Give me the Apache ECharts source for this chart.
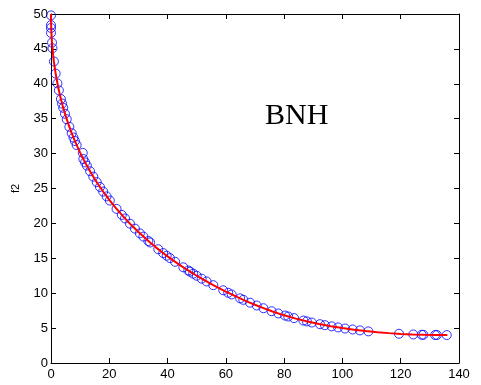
<!DOCTYPE html>
<html>
<head>
<meta charset="utf-8">
<script src="https://cdn.jsdelivr.net/npm/echarts@6/dist/echarts.min.js"></script>
<style>html,body{margin:0;padding:0;background:#fff}#c{width:481px;height:385px}</style>
</head>
<body>
<div id="c"></div>
<script>
// Circles (obtained solutions)
const pointX = [0,0,0,0,0.35,0.5,1.0,1.6,2.2,2.7,3.4,3.8,4.2,4.8,5.4,6.3,7.1,7.7,8.2,8.8,10.9,11.1,11.7,12.3,13.4,14.5,15.7,16.8,17.9,19.1,20.2,22.5,24.3,25.4,27.1,28.8,30.5,31.7,33.4,34.0,36.8,38.5,39.7,40.8,42.6,45.4,47.1,47.7,48.8,50.0,51.7,53.4,55.7,59.1,60.8,62.0,64.9,66.0,68.3,70.6,72.9,75.7,78.0,80.3,81.4,83.4,86.6,87.8,89.5,92.3,94.0,96.3,98.5,100.9,103.5,106.0,108.9,119.4,124.3,127.2,127.8,131.8,132.4,135.8];
const pointY = [49.8,48.4,48.0,47.3,45.9,45.1,43.2,41.46,40.06,39.06,37.81,37.17,36.56,35.71,34.92,33.83,32.93,32.30,31.80,31.22,30.1,29.22,28.74,28.28,27.47,26.70,25.91,25.22,24.56,23.87,23.27,22.08,21.22,20.71,19.96,19.25,18.57,18.11,17.48,17.27,16.30,15.75,15.37,15.03,14.50,13.71,13.25,13.09,12.80,12.5,12.08,11.68,11.15,10.42,10.06,9.82,9.26,9.05,8.64,8.24,7.85,7.42,7.10,6.80,6.66,6.43,6.08,5.96,5.80,5.56,5.42,5.25,5.10,4.94,4.80,4.67,4.53,4.19,4.09,4.04,4.04,4.01,4.01,4.0];
// True Pareto front (red line)
const frontX = [0,0.02,0.05,0.1,0.2,0.3,0.5,0.75,1,1.5,2,2.5,3,3.5,4,5,6,7,8,9,10,11,12,13,14,15,16,17,18,19,20,22,24,26,28,30,32,34,36,38,40,42,44,46,48,50,52,54,56,58,60,62,64,66,68,70,72,76,80,84,88,92,96,100,104,108,112,116,120,124,128,132,136];
const frontY = [50,49.0,48.43,47.79,46.89,46.2,45.1,44.06,43.17,41.71,40.5,39.44,38.50,37.65,36.86,35.44,34.18,33.04,32,31.04,30.14,29.30,28.51,27.75,27.04,26.36,25.72,25.10,24.5,23.93,23.38,22.33,21.36,20.44,19.58,18.77,18,17.27,16.57,15.91,15.28,14.67,14.10,13.54,13.01,12.5,12.01,11.54,11.08,10.65,10.23,9.82,9.43,9.05,8.69,8.34,8,7.38,6.83,6.36,5.94,5.58,5.27,5,4.77,4.57,4.41,4.28,4.17,4.10,4.04,4.01,4];
const xTicks = [0,20,40,60,80,100,120,140];
const yTicks = [0,5,10,15,20,25,30,35,40,45,50];

const font = "'Liberation Sans Narrow','Arial Narrow','Liberation Sans',Arial,sans-serif";
const chart = echarts.init(document.getElementById('c'));
const axisCommon = {
  axisLine: {show: true, onZero: false, lineStyle: {color: '#000', width: 1}},
  axisTick: {show: true, inside: true, length: 5, lineStyle: {color: '#000'}},
  splitLine: {show: false}
};
chart.setOption({
  animation: false,
  backgroundColor: '#fff',
  grid: {left: 51, right: 22, top: 14, bottom: 22, containLabel: false},
  xAxis: [
    Object.assign({type: 'value', min: xTicks[0], max: xTicks[xTicks.length-1], interval: 20, position: 'bottom',
      axisLabel: {color: '#000', fontSize: 13, fontFamily: font, margin: 5}}, axisCommon),
    Object.assign({type: 'value', min: xTicks[0], max: xTicks[xTicks.length-1], interval: 20, position: 'top',
      axisLabel: {show: false}}, axisCommon)
  ],
  yAxis: [
    Object.assign({type: 'value', min: yTicks[0], max: yTicks[yTicks.length-1], interval: 5, position: 'left',
      name: 'f2', nameLocation: 'middle', nameGap: 30, nameRotate: 90,
      nameTextStyle: {color: '#000', fontSize: 11, fontFamily: "'Liberation Sans',Arial,sans-serif"},
      axisLabel: {color: '#000', fontSize: 13, fontFamily: font, margin: 3}}, axisCommon),
    Object.assign({type: 'value', min: yTicks[0], max: yTicks[yTicks.length-1], interval: 5, position: 'right',
      axisLabel: {show: false}}, axisCommon)
  ],
  graphic: [{
    type: 'text', left: 265, top: 101,
    style: {text: 'BNH', font: "30px 'Liberation Serif','Times New Roman',serif", fill: '#000'}
  }],
  series: [
    {
      type: 'scatter', name: 'solutions',
      data: pointX.map((x, i) => [x, pointY[i]]),
      symbol: 'circle', symbolSize: 9,
      itemStyle: {color: 'rgba(0,0,0,0)', borderColor: '#0000ff', borderWidth: 1},
      z: 2
    },
    {
      type: 'line', name: 'front',
      data: frontX.map((x, i) => [x, frontY[i]]),
      showSymbol: false, symbol: 'none',
      lineStyle: {color: '#ff0000', width: 2},
      z: 3
    }
  ]
});
</script>
</body>
</html>
